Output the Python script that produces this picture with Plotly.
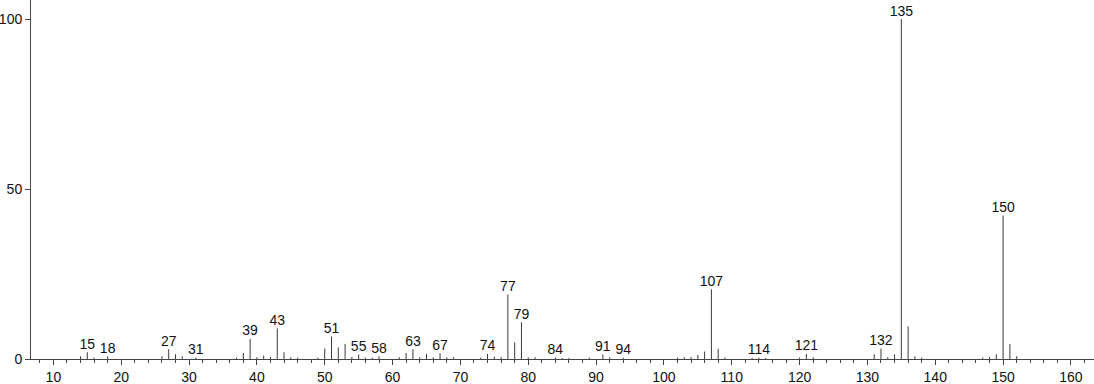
import plotly.graph_objects as go

mz = [14, 15, 16, 18, 26, 27, 28, 29, 31, 37, 38, 39, 40, 41, 42, 43, 44, 45, 46, 49,
      50, 51, 52, 53, 54, 55, 56, 57, 58, 61, 62, 63, 64, 65, 66, 67, 68, 69, 73, 74,
      75, 76, 77, 78, 79, 80, 81, 84, 85, 86, 89, 91, 92, 94, 102, 103, 104, 105, 106, 107,
      108, 109, 113, 114, 115, 120, 121, 122, 131, 132, 133, 134, 135, 136, 137, 138, 147, 148, 149, 150,
      151, 152]
intensity = [0.8, 2.0, 0.4, 0.8, 0.8, 2.9, 1.4, 0.8, 0.4, 0.4, 1.8, 5.9, 0.5, 1.0, 0.6, 9.0, 2.0, 0.5, 0.4, 0.4,
             3.1, 6.6, 3.4, 4.4, 0.6, 1.3, 0.4, 0.4, 0.8, 0.5, 1.8, 2.9, 0.5, 1.5, 0.5, 1.7, 0.5, 0.5, 0.4, 1.5,
             0.7, 0.6, 19.0, 4.9, 10.8, 0.5, 0.5, 0.4, 0.3, 0.3, 0.4, 1.3, 0.5, 0.4, 0.4, 0.5, 0.6, 1.2, 2.2, 20.5,
             3.0, 0.4, 0.3, 0.4, 0.3, 0.4, 1.5, 0.5, 1.4, 3.1, 0.5, 1.4, 100.0, 9.6, 0.8, 0.4, 0.4, 0.6, 1.4, 42.2,
             4.4, 0.8]
labeled = [15, 18, 27, 31, 39, 43, 51, 55, 58, 63, 67, 74, 77, 79, 84, 91, 94, 107, 114, 121, 132, 135, 150]

xs, ys = [], []
for m, v in zip(mz, intensity):
    xs += [m, m, None]
    ys += [0, v, None]

lookup = dict(zip(mz, intensity))
lx = labeled
ly = [lookup[m] for m in labeled]

font = dict(family="Liberation Sans, Arial, sans-serif", size=14, color="#111")

fig = go.Figure()
fig.add_trace(go.Scatter(x=xs, y=ys, mode="lines", line=dict(color="#3a3a3a", width=1),
                         hoverinfo="skip", showlegend=False))
fig.add_trace(go.Scatter(x=lx, y=ly, mode="text", text=[str(m) for m in lx],
                         textposition="top center", textfont=font, cliponaxis=False,
                         showlegend=False))

fig.update_layout(
    width=1094, height=384,
    margin=dict(l=31, r=0, t=0, b=25),
    paper_bgcolor="white", plot_bgcolor="white",
    font=font,
    xaxis=dict(range=[6.7, 163.4], tick0=0, dtick=10, ticks="outside", ticklen=5,
               tickcolor="#444", showline=True, linecolor="#444", linewidth=1,
               showgrid=False, zeroline=False, tickfont=font,
               minor=dict(dtick=2, ticks="outside", ticklen=3, tickcolor="#444", showgrid=False)),
    yaxis=dict(range=[0, 105.6], tickvals=[0, 50, 100], ticks="outside", ticklen=5,
               tickcolor="#444", showline=True, linecolor="#444", linewidth=1,
               showgrid=False, zeroline=False, tickfont=font, ticklabelstandoff=0),
)

fig.write_html("out.html")
